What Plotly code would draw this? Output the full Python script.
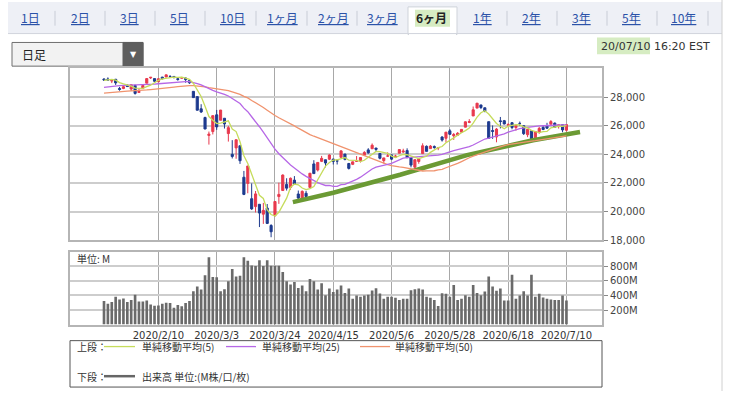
import pandas as pd
import plotly.graph_objects as go

# ---------------- data ----------------
holidays = ["2020-02-17", "2020-04-10", "2020-05-25", "2020-07-03"]
dates = [d for d in pd.bdate_range("2020-01-21", "2020-07-10")
         if d.strftime("%Y-%m-%d") not in holidays]

# closes before the visible window (needed for the moving averages)
prior_closes = [27675, 27681, 27691, 27691, 27784, 27782, 28005, 28036, 27934, 27821,
                27766, 27876, 28066, 28122, 28164, 28051, 27783, 27503, 27650, 27678,
                28015, 27910, 27882, 27911, 28132, 28135, 28236, 28267, 28239, 28377,
                28455, 28552, 28515, 28621, 28645, 28462, 28538, 28869, 28635, 28703,
                28584, 28745, 28957, 28824, 28907, 28940, 29030, 29298, 29348]

opens = [29263, 29260, 29120, 29240, 28600, 28600, 28820, 28560, 28810, 28320,
         28620, 28970, 29340, 29290, 29070, 29390, 29400, 29440, 29440, 29280,
         29320, 29330, 29160, 28400, 28030, 27180, 26570, 25320, 25590, 26760,
         26380, 26520, 25450, 24000, 24450, 24600, 22400, 21970, 20900, 20350,
         20510, 19820, 20250, 19030, 19720, 21050, 21470, 21900, 21680, 22200,
         21230, 20820, 21280, 21690, 23330, 22900, 23510, 23620, 23660, 23670,
         23540, 23790, 24020, 23360, 23300, 23510, 23560, 23940, 24310, 24390,
         24440, 24060, 23560, 23880, 23960, 23800, 24080, 24160, 24260, 23780,
         23100, 23500, 24050, 24560, 24400, 24550, 24440, 25210, 25120, 25640,
         25290, 25340, 25550, 25900, 26230, 26680, 27230, 27450, 27250, 26280,
         25660, 25210, 26340, 26350, 26030, 26210, 25870, 26160, 26000, 25370,
         25640, 25150, 25520, 25880, 25970, 26100, 26180, 25940, 26070, 25680]
highs = [29298, 29373, 29190, 29270, 28710, 28800, 28890, 28880, 28870, 28590,
         28880, 29300, 29380, 29290, 29280, 29415, 29568, 29530, 29440, 29320,
         29410, 29370, 29170, 28400, 28060, 27500, 26630, 25590, 26700, 27100,
         27100, 26530, 25990, 24990, 25020, 24600, 22840, 23190, 21970, 21440,
         20530, 20610, 20530, 19120, 20740, 22020, 22600, 22330, 22380, 22480,
         21470, 21480, 21450, 22680, 23590, 23450, 23890, 23620, 24000, 23680,
         23650, 24260, 24020, 23400, 23490, 23880, 23790, 24220, 24430, 24760,
         24440, 24060, 23750, 24140, 23980, 23970, 24350, 24390, 24420, 23780,
         23640, 23720, 24770, 24620, 24650, 24620, 24470, 25260, 25560, 25760,
         25490, 25550, 25750, 26300, 26460, 27340, 27580, 27450, 27260, 26280,
         26020, 25840, 26610, 26400, 26170, 26250, 26040, 26290, 26000, 25750,
         25640, 25600, 25910, 26000, 26200, 26390, 26220, 26070, 26070, 26080]
lows = [29130, 29170, 28975, 28845, 28440, 28550, 28730, 28430, 28170, 28320,
        28620, 28970, 29260, 29060, 29040, 29240, 29400, 29340, 29300, 29140,
        29320, 29000, 28920, 27940, 27060, 26890, 25760, 24680, 25390, 25710,
        26380, 25800, 24890, 23710, 23690, 23330, 21150, 21280, 20120, 19940,
        18920, 19140, 19130, 18210, 19650, 20540, 21470, 21470, 21520, 21860,
        20740, 20740, 20860, 21690, 22640, 22800, 23460, 23090, 23600, 23290,
        23290, 23790, 23580, 22940, 23250, 23480, 23430, 23940, 24040, 24390,
        24160, 23650, 23360, 23830, 23600, 23740, 24080, 24100, 23760, 23090,
        22790, 23340, 24050, 24200, 24400, 24390, 24290, 24890, 24830, 25350,
        25010, 25280, 25490, 25890, 26180, 26680, 27230, 27160, 26940, 25080,
        25080, 24840, 25810, 26090, 25950, 25750, 25650, 25980, 25350, 25200,
        24950, 25070, 25440, 25690, 25770, 26090, 25890, 25800, 25540, 25600]
closes = [29196, 29186, 29160, 28990, 28536, 28723, 28734, 28859, 28256, 28400,
          28808, 29291, 29380, 29103, 29277, 29276, 29551, 29423, 29398, 29232,
          29348, 29220, 28992, 27961, 27081, 26958, 25767, 25409, 26703, 25917,
          27091, 26121, 25865, 23851, 25018, 23553, 21201, 23186, 20189, 21237,
          19899, 20087, 19174, 18592, 20705, 21201, 22552, 21637, 22327, 21917,
          20944, 21413, 21053, 22680, 22654, 23434, 23719, 23391, 23950, 23504,
          23538, 24242, 23650, 23019, 23476, 23515, 23775, 24134, 24102, 24634,
          24346, 23724, 23750, 23883, 23665, 23876, 24331, 24222, 23765, 23248,
          23625, 23685, 24597, 24207, 24576, 24474, 24465, 24995, 25548, 25401,
          25383, 25475, 25743, 26270, 26282, 27111, 27572, 27272, 26990, 25128,
          25606, 25763, 26290, 26120, 26080, 25871, 26025, 26156, 25446, 25746,
          25016, 25596, 25813, 25735, 25827, 26287, 25890, 26067, 25706, 26075]
volumes_m = [322, 286, 309, 381, 345, 359, 309, 336, 408, 318,
             318, 332, 277, 259, 262, 286, 300, 296, 231, 268,
             250, 296, 322, 458, 522, 481, 676, 925, 653, 650,
             458, 485, 594, 762, 662, 671, 925, 876, 812, 803,
             884, 803, 884, 807, 807, 807, 721, 594, 549, 585,
             503, 536, 458, 626, 594, 481, 567, 404, 495, 449,
             481, 536, 435, 495, 354, 400, 381, 400, 408, 467,
             499, 427, 354, 381, 381, 367, 336, 354, 354, 472,
             485, 495, 481, 381, 367, 336, 254, 431, 422, 381,
             544, 336, 354, 404, 381, 544, 435, 404, 454, 662,
             522, 463, 495, 332, 332, 685, 354, 400, 458, 400,
             685, 381, 422, 372, 354, 345, 336, 336, 400, 332]

# thick green trend line (bar positions, values)
trend_pos = [48.6, 59.0, 76.2, 93.4, 110.4, 122.5]
trend_vals = [20665, 21317, 22574, 23948, 24978, 25555]

price_ticks = [18000, 20000, 22000, 24000, 26000, 28000]
vol_ticks = [200, 400, 600, 800]
tab_labels = ["1日", "2日", "3日", "5日", "10日", "1ヶ月", "2ヶ月", "3ヶ月", "6ヶ月",
              "1年", "2年", "3年", "5年", "10年"]

# ---------------- derived ----------------
idx = list(range(len(dates)))
all_close = pd.Series(prior_closes + closes)
n0 = len(prior_closes)
ma5 = all_close.rolling(5).mean().iloc[n0:].tolist()
ma25 = all_close.rolling(25).mean().iloc[n0:].tolist()
ma50 = all_close.rolling(50).mean().iloc[n0:].tolist()
label_pos = idx[14::15]
label_txt = [f"{dates[i].year}/{dates[i].month}/{dates[i].day}" for i in label_pos]

W, H = 733, 396
def px(x): return x / W
def py(y): return 1 - y / H

RED = "#e8394d"
BLUE = "#1d3a8e"
JP = "Noto Sans CJK JP"

fig = go.Figure()
fig.add_trace(go.Bar(x=idx, y=volumes_m, xaxis="x2", yaxis="y2", width=0.68,
                     marker=dict(color="#6a6a6a", line=dict(width=0)), hoverinfo="skip"))
fig.add_trace(go.Scatter(x=trend_pos, y=trend_vals, mode="lines",
                         line=dict(color="#6b9a34", width=4.5), hoverinfo="skip"))
fig.add_trace(go.Scatter(x=idx, y=ma50, mode="lines", line=dict(color="#f0936e", width=1.3)))
fig.add_trace(go.Scatter(x=idx, y=ma25, mode="lines", line=dict(color="#b667e6", width=1.3)))
fig.add_trace(go.Scatter(x=idx, y=ma5, mode="lines", line=dict(color="#c6dc5c", width=1.3)))
fig.add_trace(go.Candlestick(x=idx, open=opens, high=highs, low=lows, close=closes,
                             whiskerwidth=0,
                             increasing=dict(line=dict(color=RED, width=1), fillcolor=RED),
                             decreasing=dict(line=dict(color=BLUE, width=1), fillcolor=BLUE)))

xr = [(70 - 104) / 3.886, (602 - 104) / 3.886]
common_x = dict(range=xr, tickvals=label_pos, showgrid=True, gridcolor="#a8a8a8", gridwidth=1,
                zeroline=False, showline=True, mirror=True, linecolor="#b5b5b5", linewidth=2,
                domain=[px(70), px(602)], fixedrange=True)
fig.update_layout(
    width=W, height=H, margin=dict(l=0, r=0, t=0, b=0),
    paper_bgcolor="white", plot_bgcolor="white", showlegend=False, boxgap=0.22,
    font=dict(family="DejaVu Sans", size=10, color="#333"),
    xaxis=dict(**common_x, showticklabels=False, ticks="", rangeslider=dict(visible=False),
               anchor="y"),
    yaxis=dict(domain=[py(243.3), py(69.3)], range=[18000, 30000], side="right",
               tickvals=price_ticks, tickformat=",", ticks="outside", ticklen=4,
               tickcolor="#888", showgrid=True, gridcolor="#cdcdcd", gridwidth=2,
               zeroline=False, showline=True, mirror=True, linecolor="#b5b5b5", linewidth=2,
               anchor="x", fixedrange=True, tickfont=dict(size=10, color="#444")),
    xaxis2=dict(**common_x, ticktext=label_txt, ticks="", anchor="y2",
                tickfont=dict(size=10, color="#333")),
    yaxis2=dict(domain=[py(328.7), py(255)], range=[0, 1000], side="right",
                tickvals=vol_ticks, ticktext=[f"{v}M" for v in vol_ticks],
                ticks="outside", ticklen=4, tickcolor="#888", showgrid=True,
                gridcolor="#cdcdcd", gridwidth=2, zeroline=False, showline=True, mirror=True,
                linecolor="#b5b5b5", linewidth=2, anchor="x2", fixedrange=True,
                tickfont=dict(size=10, color="#444")),
)

shapes = []
ann = []
def rect(x0, y0, x1, y1, fill, line="rgba(0,0,0,0)", lw=1, layer="below"):
    shapes.append(dict(type="rect", xref="paper", yref="paper", x0=px(x0), x1=px(x1),
                       y0=py(y1), y1=py(y0), fillcolor=fill, line=dict(color=line, width=lw),
                       layer=layer))
def hline(x0, x1, y, color, lw=1):
    shapes.append(dict(type="line", xref="paper", yref="paper", x0=px(x0), x1=px(x1),
                       y0=py(y), y1=py(y), line=dict(color=color, width=lw)))
def vline(x, y0, y1, color, lw=1):
    shapes.append(dict(type="line", xref="paper", yref="paper", x0=px(x), x1=px(x),
                       y0=py(y0), y1=py(y1), line=dict(color=color, width=lw)))
def text(x, y, s, size=10, color="#333", anchor="left", family=JP):
    ann.append(dict(xref="paper", yref="paper", x=px(x), y=py(y), text=s, showarrow=False,
                    xanchor=anchor, yanchor="middle", font=dict(size=size, color=color,
                                                                 family=family)))

# tab strip
rect(8, 2, 722, 34, "#eef0f6")
hline(8, 722, 34, "#d0d4dc")
rect(408, 7, 457, 35, "white", "#cfd3da")
rect(409, 33, 456, 37, "white")
rect(415, 10, 450, 27, "#d6ecc2")
tab_x = [30, 80, 129, 179, 232, 282, 333, 382, 432, 482, 531, 581, 631, 683]
for i, (lab, xx) in enumerate(zip(tab_labels, tab_x)):
    if lab == "6ヶ月":
        text(xx, 18, "<b>" + lab + "</b>", size=12, color="#222", anchor="center")
    else:
        text(xx, 18, "<u>" + lab + "</u>", size=12, color="#2b52a8", anchor="center")
for sx in [55, 105, 155, 205, 256, 307, 357, 507, 557, 607, 657, 708]:
    vline(sx, 11, 26, "#c8ccd6")
vline(722, 0, 396, "#d0d0d0")

# dropdown
rect(12, 43, 143, 67, "#f2f2f2", "#6e6e6e", 1)
rect(123, 43, 143, 67, "#5e5e5e", "#5e5e5e", 1)
text(20, 55, "日足", size=12, color="#222")
text(133, 55, "▼", size=8, color="white", anchor="center", family="DejaVu Sans")

# timestamp
rect(597, 38, 650, 55, "#d6ecc2")
text(712, 47, "20/07/10 16:20 EST", size=11, color="#333", anchor="right", family="DejaVu Sans")

# volume unit
text(75, 262, "単位: M", size=10, color="#333")

# legend box
rect(70, 345, 602, 392, "rgba(0,0,0,0)", "#555", 1)
text(75, 351, "上段：", size=10, color="#333")
hline(104, 135, 351, "#c6dc5c", 1.3)
text(140, 351, "単純移動平均(5)", size=10, color="#333")
hline(226, 256, 351, "#b667e6", 1.3)
text(260, 351, "単純移動平均(25)", size=10, color="#333")
hline(360, 390, 351, "#f0936e", 1.3)
text(393, 351, "単純移動平均(50)", size=10, color="#333")
text(75, 381, "下段：", size=10, color="#333")
hline(104, 135, 381, "#666666", 2.5)
text(140, 381, "出来高 単位:(M株/口/枚)", size=10, color="#333")

fig.update_layout(shapes=shapes, annotations=ann)
fig.write_html("out.html", config={"displayModeBar": False},
               post_script="document.body.style.margin='0';document.body.style.overflow='hidden';")
